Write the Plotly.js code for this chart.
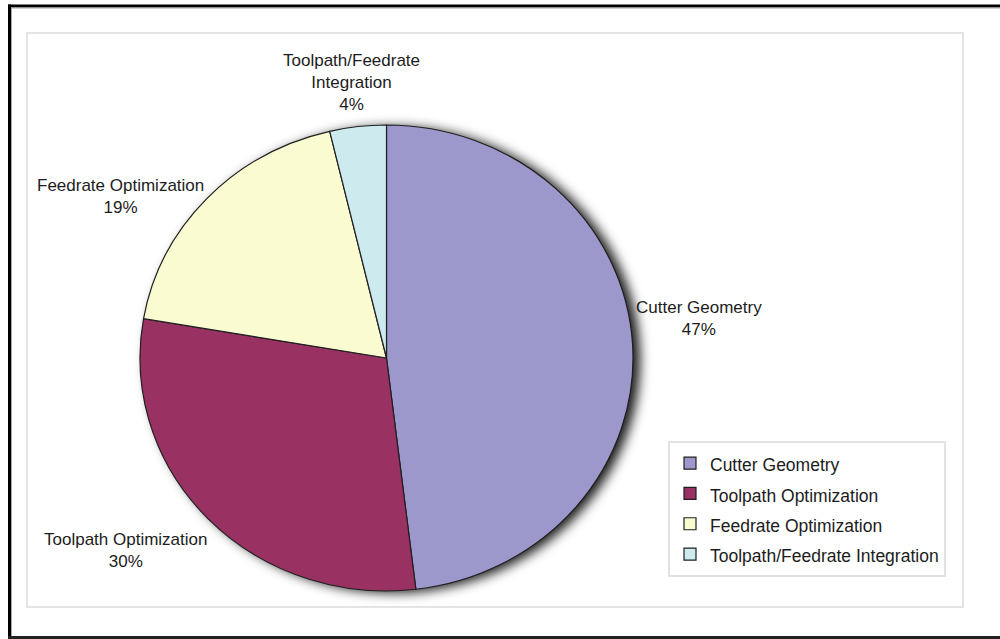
<!DOCTYPE html>
<html>
<head>
<meta charset="utf-8">
<script src="https://cdn.plot.ly/plotly-3.0.1.min.js"></script>
<style>
html,body{margin:0;padding:0;background:#ffffff;overflow:hidden;}
#chart{width:1000px;height:639px;}
.pielayer{transform-origin:386.5px 358px;transform:scaleY(0.945);}
.pielayer .trace:first-child{filter:blur(6px);}
</style>
</head>
<body>
<div id="chart"></div>
<script>
// ---- data ----
const categories = ["Cutter Geometry", "Toolpath Optimization", "Feedrate Optimization", "Toolpath/Feedrate Integration"];
const sliceValues = [48.1, 29.6, 18.6, 3.7];           // slice sizes
const pctLabels = ["47%", "30%", "19%", "4%"];          // percentages as printed on the chart
const labelLines = ["Cutter Geometry", "Toolpath Optimization", "Feedrate Optimization", "Toolpath/Feedrate<br>Integration"];
const sliceColors = ["#9c98cc", "#9a3163", "#fbfbd2", "#cdebee"];

// ---- helpers (pixel -> paper) ----
const W = 1000, H = 639;
const px = x => x / W;
const py = y => 1 - y / H;

const FONT = "Liberation Sans, Arial, sans-serif";
const legendLabels = categories.map(c => '<span style="font-size:17.5px">' + c + '</span>');

// label anchor points (pixel positions of each data-label block centre)
const labelPosX = [699, 125.5, 120, 351];
const labelPosY = [318.5, 550.5, 196, 82.5];

// pie geometry: centre (386.5, 358), radius 246.5 px
const cx = 386.5, cy = 358, r = 246.5;

const shadow = {
  type: "pie",
  values: sliceValues,
  labels: legendLabels,
  sort: false,
  direction: "clockwise",
  rotation: 0,
  marker: { colors: categories.map(() => "rgba(0,0,0,0.9)"), line: { width: 0 } },
  textinfo: "none",
  hoverinfo: "skip",
  showlegend: false,
  domain: { x: [px(cx - r + 7), px(cx + r + 7)], y: [py(cy + r + 2), py(cy - r + 2)] }
};

const pie = {
  type: "pie",
  values: sliceValues,
  labels: legendLabels,
  textinfo: "none",
  sort: false,
  direction: "clockwise",
  rotation: 0,
  marker: { colors: sliceColors, line: { color: "#1f1f1f", width: 1.2 } },
  hoverinfo: "none",
  domain: { x: [px(cx - r), px(cx + r)], y: [py(cy + r), py(cy - r)] }
};

const annotations = labelLines.map((l, i) => ({
  xref: "paper", yref: "paper",
  x: px(labelPosX[i]), y: py(labelPosY[i]),
  xanchor: "center", yanchor: "middle",
  text: l + "<br>" + pctLabels[i],
  showarrow: false,
  align: "center",
  font: { family: FONT, size: 17, color: "#1c1c1c" }
}));

const layout = {
  width: W, height: H,
  margin: { l: 0, r: 0, t: 0, b: 0 },
  paper_bgcolor: "#ffffff",
  font: { family: FONT, color: "#1c1c1c" },
  showlegend: true,
  legend: {
    x: px(668), xanchor: "left",
    y: py(441), yanchor: "top",
    bgcolor: "#ffffff",
    bordercolor: "#e2e2e2",
    borderwidth: 2,
    font: { family: FONT, size: 21, color: "#1c1c1c" },
    itemclick: false, itemdoubleclick: false
  },
  annotations: annotations,
  shapes: [
    // outer black frame (left, top, bottom)
    { type: "line", xref: "paper", yref: "paper", x0: px(9.5), x1: px(9.5), y0: py(639), y1: py(4.5),
      line: { color: "#000000", width: 3 }, layer: "above" },
    { type: "line", xref: "paper", yref: "paper", x0: px(8), x1: 1, y0: py(6), y1: py(6),
      line: { color: "#000000", width: 3 }, layer: "above" },
    { type: "line", xref: "paper", yref: "paper", x0: px(8), x1: 1, y0: py(637.5), y1: py(637.5),
      line: { color: "#222222", width: 3 }, layer: "above" },
    { type: "line", xref: "paper", yref: "paper", x0: px(11.5), x1: px(11.5), y0: py(636), y1: py(7.5),
      line: { color: "#a8a8a8", width: 1 }, layer: "above" },
    { type: "line", xref: "paper", yref: "paper", x0: px(11), x1: 1, y0: py(8), y1: py(8),
      line: { color: "#a8a8a8", width: 1 }, layer: "above" },
    // inner light-grey box
    { type: "rect", xref: "paper", yref: "paper", x0: px(27), x1: px(963), y0: py(607), y1: py(33),
      line: { color: "#e4e4e4", width: 2 }, layer: "below" }
  ]
};

Plotly.newPlot("chart", [shadow, pie], layout, { displayModeBar: false, staticPlot: true });
</script>
</body>
</html>
